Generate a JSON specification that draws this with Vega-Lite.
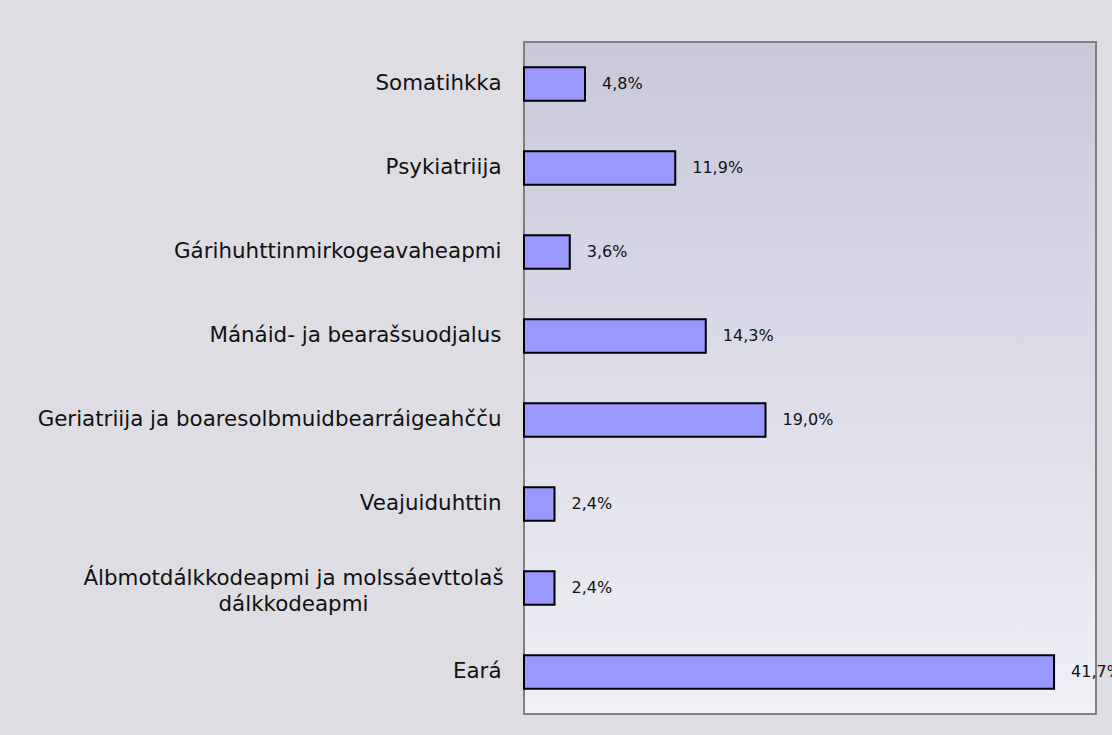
{
  "$schema": "https://vega.github.io/schema/vega-lite/v6.json",
  "width": 572,
  "height": 672,
  "autosize": {"type": "none"},
  "padding": {"left": 524, "top": 42, "right": 16, "bottom": 21},
  "background": "#dedde3",
  "data": {
    "values": [
      {"category": "Somatihkka", "share": 0.048},
      {"category": "Psykiatriija", "share": 0.119},
      {"category": "Gárihuhttinmirkogeavaheapmi", "share": 0.036},
      {"category": "Mánáid- ja bearašsuodjalus", "share": 0.143},
      {"category": "Geriatriija ja boaresolbmuidbearráigeahčču", "share": 0.19},
      {"category": "Veajuiduhttin", "share": 0.024},
      {"category": "Álbmotdálkkodeapmi ja molssáevttolaš dálkkodeapmi", "share": 0.024},
      {"category": "Eará", "share": 0.417}
    ]
  },
  "encoding": {
    "y": {
      "field": "category",
      "type": "nominal",
      "sort": null,
      "scale": {"paddingInner": 0.6, "paddingOuter": 0.3},
      "axis": {
        "title": null,
        "domain": false,
        "ticks": false,
        "labelFont": "DejaVu Sans",
        "labelFontSize": 21.4,
        "labelColor": "#111111",
        "labelLimit": 600,
        "labelLineHeight": 26,
        "labelExpr": "datum.value == 'Álbmotdálkkodeapmi ja molssáevttolaš dálkkodeapmi' ? ['Álbmotdálkkodeapmi ja molssáevttolaš', 'dálkkodeapmi'] : datum.value",
        "labelAlign": {"condition": {"test": "datum.value == 'Álbmotdálkkodeapmi ja molssáevttolaš dálkkodeapmi'", "value": "center"}, "value": "right"},
        "labelPadding": {"condition": {"test": "datum.value == 'Álbmotdálkkodeapmi ja molssáevttolaš dálkkodeapmi'", "value": 231}, "value": 23},
        "labelOffset": {"condition": {"test": "datum.value == 'Álbmotdálkkodeapmi ja molssáevttolaš dálkkodeapmi'", "value": -9}, "value": 0}
      }
    },
    "x": {
      "field": "share",
      "type": "quantitative",
      "scale": {"domain": [0, 0.45], "nice": false},
      "axis": null
    }
  },
  "layer": [
    {
      "mark": {"type": "bar", "fill": "#9999ff", "stroke": "#000000", "strokeWidth": 2}
    },
    {
      "mark": {"type": "text", "align": "left", "baseline": "middle", "dx": 17, "font": "DejaVu Sans", "fontSize": 16, "color": "#111111"},
      "encoding": {"text": {"field": "share", "type": "quantitative", "format": ".1%"}}
    }
  ],
  "config": {
    "locale": {"number": {"decimal": ",", "thousands": " ", "grouping": [3], "currency": ["", " €"]}},
    "view": {
      "stroke": "#808080",
      "strokeWidth": 2,
      "fill": {"gradient": "linear", "x1": 0, "y1": 0, "x2": 0, "y2": 1, "stops": [{"offset": 0, "color": "#c9c8da"}, {"offset": 1, "color": "#f0f0f7"}]}
    }
  }
}
